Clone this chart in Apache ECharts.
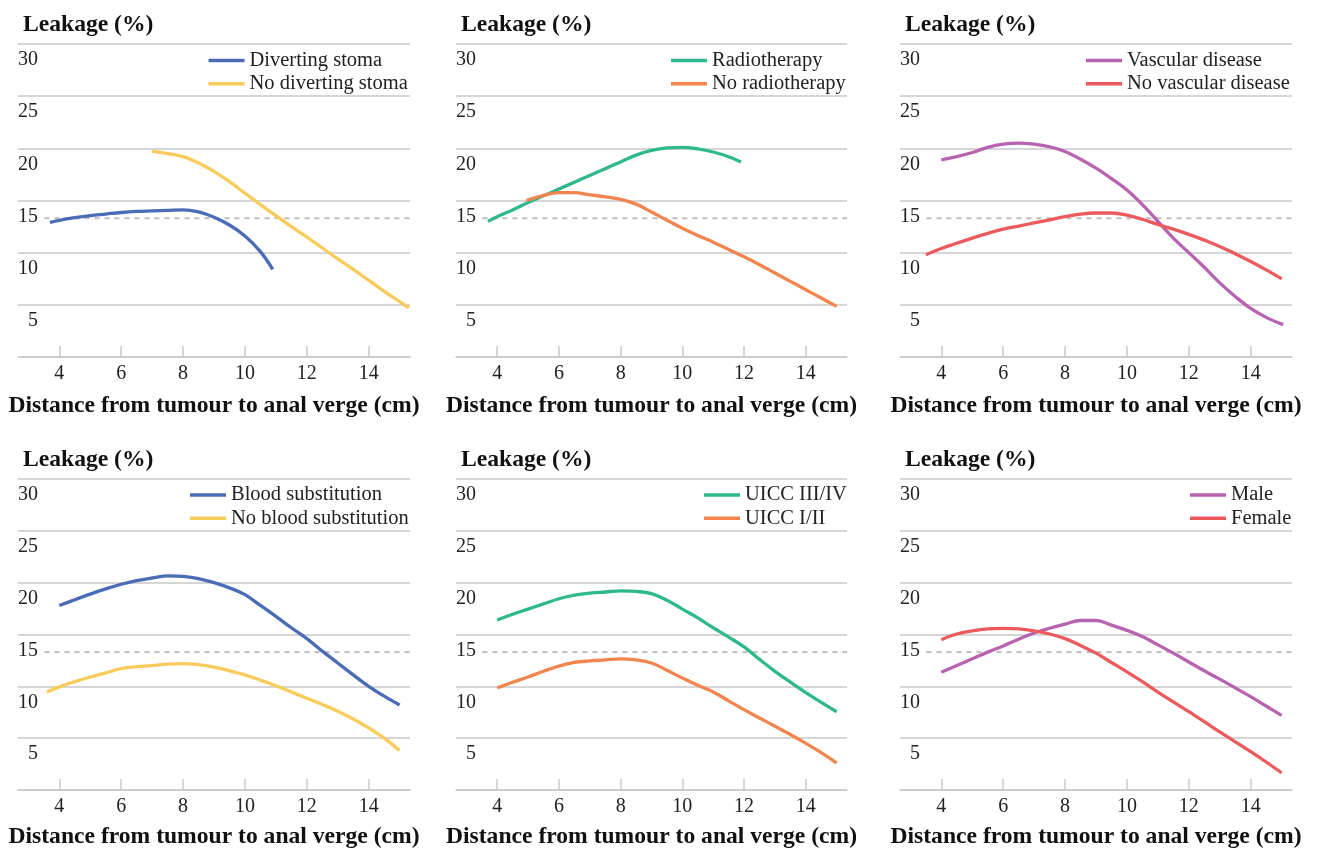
<!DOCTYPE html>
<html>
<head>
<meta charset="utf-8">
<script src="https://cdn.jsdelivr.net/npm/echarts@6/dist/echarts.min.js"></script>
<style>
html,body{margin:0;padding:0;background:#fff;}
#chart{width:1320px;height:850px;}
</style>
</head>
<body>
<div id="chart"></div>
<script>
// ---------- data ----------
const xTicks = [4, 6, 8, 10, 12, 14];
const yTicks = [0, 5, 10, 15, 20, 25, 30];
const overallLeakage = 13.3;
const overallRange = [3.52, 15.335];

const divertingStoma = [[3.7,12.9],[4,13.1],[4.5,13.35],[5,13.55],[5.5,13.7],[6,13.85],[6.5,13.95],[7,14.0],[7.5,14.05],[8,14.1],[8.5,13.9],[9,13.4],[9.5,12.65],[10,11.6],[10.5,10.1],[10.9,8.4]];
const noDivertingStoma = [[7.0,19.7],[7.5,19.5],[8,19.2],[8.5,18.6],[9,17.8],[9.5,16.8],[10,15.7],[10.5,14.6],[11,13.55],[11.5,12.5],[12,11.5],[12.5,10.45],[13,9.4],[13.5,8.4],[14,7.35],[14.5,6.3],[15,5.3],[15.3,4.7]];

const radiotherapy = [[3.7,13.0],[4,13.45],[4.5,14.1],[5,14.8],[5.5,15.45],[6,16.1],[6.5,16.75],[7,17.4],[7.5,18.05],[8,18.7],[8.5,19.35],[9,19.8],[9.5,20.05],[10,20.1],[10.5,19.95],[11,19.65],[11.5,19.2],[11.9,18.7]];
const noRadiotherapy = [[4.95,15.0],[5.5,15.5],[6,15.75],[6.5,15.75],[7,15.55],[7.5,15.35],[8,15.1],[8.5,14.65],[9,13.9],[9.5,13.1],[10,12.35],[10.5,11.65],[11,11.0],[11.5,10.3],[12,9.6],[12.5,8.85],[13,8.05],[13.5,7.25],[14,6.45],[14.5,5.65],[15,4.85]];

const vascularDisease = [[4,18.9],[4.5,19.2],[5,19.6],[5.5,20.1],[6,20.4],[6.5,20.5],[7,20.4],[7.5,20.15],[8,19.7],[8.5,18.95],[9,18.1],[9.5,17.1],[10,16.0],[10.5,14.6],[11,13.0],[11.5,11.4],[12,10.0],[12.5,8.6],[13,7.1],[13.5,5.8],[14,4.65],[14.5,3.8],[15.05,3.1]];
const noVascularDisease = [[3.5,9.8],[4,10.4],[4.5,10.9],[5,11.4],[5.5,11.85],[6,12.25],[6.5,12.55],[7,12.85],[7.5,13.15],[8,13.45],[8.5,13.7],[9,13.8],[9.5,13.8],[10,13.6],[10.5,13.2],[11,12.7],[11.5,12.25],[12,11.75],[12.5,11.2],[13,10.6],[13.5,9.9],[14,9.15],[14.5,8.35],[15,7.5]];

const bloodSubstitution = [[4,17.8],[4.5,18.35],[5,18.9],[5.5,19.4],[6,19.85],[6.5,20.2],[7,20.45],[7.5,20.65],[8,20.6],[8.5,20.4],[9,20.0],[9.5,19.5],[10,18.85],[10.5,17.8],[11,16.75],[11.5,15.65],[12,14.6],[12.5,13.4],[13,12.25],[13.5,11.1],[14,10.0],[14.5,9.05],[15,8.2]];
const noBloodSubstitution = [[3.6,9.45],[4,9.95],[4.5,10.45],[5,10.9],[5.5,11.3],[6,11.7],[6.5,11.9],[7,12.0],[7.5,12.15],[8,12.2],[8.5,12.1],[9,11.85],[9.5,11.5],[10,11.1],[10.5,10.6],[11,10.05],[11.5,9.45],[12,8.85],[12.5,8.25],[13,7.6],[13.5,6.85],[14,6.0],[14.5,5.0],[15,3.8]];

const uiccIIIIV = [[4,16.4],[4.5,16.95],[5,17.45],[5.5,17.95],[6,18.45],[6.5,18.8],[7,19.0],[7.5,19.1],[8,19.2],[8.5,19.15],[9,18.95],[9.5,18.3],[10,17.45],[10.5,16.6],[11,15.65],[11.5,14.75],[12,13.8],[12.5,12.6],[13,11.45],[13.5,10.4],[14,9.4],[14.5,8.45],[15,7.55]];
const uiccIII = [[4,9.85],[4.5,10.4],[5,10.9],[5.5,11.45],[6,11.95],[6.5,12.3],[7,12.45],[7.5,12.55],[8,12.65],[8.5,12.55],[9,12.25],[9.5,11.55],[10,10.8],[10.5,10.1],[11,9.45],[11.5,8.6],[12,7.75],[12.5,6.95],[13,6.15],[13.5,5.35],[14,4.5],[14.5,3.6],[15,2.6]];

const male = [[4,11.35],[4.5,12.0],[5,12.65],[5.5,13.3],[6,13.9],[6.5,14.55],[7,15.15],[7.5,15.6],[8,16.0],[8.5,16.35],[9,16.35],[9.5,15.9],[10,15.4],[10.5,14.8],[11,14.0],[11.5,13.2],[12,12.35],[12.5,11.5],[13,10.7],[13.5,9.85],[14,9.0],[14.5,8.1],[15,7.2]];
const female = [[4,14.5],[4.5,15.05],[5,15.35],[5.5,15.55],[6,15.6],[6.5,15.55],[7,15.35],[7.5,15.05],[8,14.6],[8.5,13.95],[9,13.2],[9.5,12.3],[10,11.4],[10.5,10.45],[11,9.45],[11.5,8.5],[12,7.55],[12.5,6.6],[13,5.6],[13.5,4.65],[14,3.7],[14.5,2.7],[15,1.65]];

const yTitle = 'Leakage (%)';
const xTitle = 'Distance from tumour to anal verge (cm)';

// ---------- layout / style ----------
const FONT = "'Liberation Serif','Times New Roman',serif";
const C = {blue:'#4A6CB6', yellow:'#F9CB5A', green:'#2DB88E', orange:'#F2844E', purple:'#B763AF', red:'#EC5A5E'};

const panels = [
  {left:18,  top:44,  width:392, legendLeft:208.5, lines:[['Diverting stoma',divertingStoma,C.blue],['No diverting stoma',noDivertingStoma,C.yellow]]},
  {left:456, top:44,  width:391, legendLeft:671,   lines:[['Radiotherapy',radiotherapy,C.green],['No radiotherapy',noRadiotherapy,C.orange]]},
  {left:900, top:44,  width:392, legendLeft:1086,  lines:[['Vascular disease',vascularDisease,C.purple],['No vascular disease',noVascularDisease,C.red]]},
  {left:18,  top:479, width:392, legendLeft:190,   lines:[['Blood substitution',bloodSubstitution,C.blue],['No blood substitution',noBloodSubstitution,C.yellow]]},
  {left:456, top:479, width:391, legendLeft:704,   lines:[['UICC III/IV',uiccIIIIV,C.green],['UICC I/II',uiccIII,C.orange]]},
  {left:900, top:479, width:392, legendLeft:1190,  lines:[['Male',male,C.purple],['Female',female,C.red]]}
];
const GRID_H = 313;
const GRIDC = '#C9C9C9';

const option = {
  animation:false,
  backgroundColor:'#fff',
  textStyle:{fontFamily:FONT},
  grid:[], xAxis:[], yAxis:[], legend:[], series:[]
};

panels.forEach((p, i) => {
  const topRow = p.top < 100;
  option.grid.push({left:p.left, top:p.top, width:p.width, height:GRID_H, containLabel:false});
  option.xAxis.push({
    type:'value', gridIndex:i, min:2.665, max:15.335,
    name:xTitle, nameLocation:'middle', nameGap: topRow ? 37 : 35,
    nameTextStyle:{fontFamily:FONT, fontSize:23.6, fontWeight:'bold', color:'#111'},
    axisLine:{show:true, lineStyle:{color:GRIDC, width:1.5}},
    axisTick:{show:true, inside:true, length:11, customValues:xTicks, lineStyle:{color:GRIDC, width:1.5}},
    axisLabel:{customValues:xTicks, margin:7, fontFamily:FONT, fontSize:20, color:'#222'},
    splitLine:{show:false}
  });
  option.yAxis.push({
    type:'value', gridIndex:i, min:yTicks[0], max:yTicks[yTicks.length-1], interval:5,
    name:yTitle, nameLocation:'end', nameGap:19,
    nameTextStyle:{fontFamily:FONT, fontSize:23.6, fontWeight:'bold', color:'#111', align:'left', verticalAlign:'middle', padding:[0,0,0,5]},
    axisLine:{show:false}, axisTick:{show:false},
    axisLabel:{inside:true, margin:20, align:'right', verticalAlign:'top', padding:[6,0,0,0], fontFamily:FONT, fontSize:20, color:'#222',
      formatter:(v)=> v===0 ? '' : String(v)},
    splitLine:{show:true, lineStyle:{color:GRIDC, width:1.5}}
  });
  option.legend.push({
    orient:'vertical', left:p.legendLeft, top:p.top + (topRow ? 6 : 5.5), padding:0,
    itemGap:2.3, itemWidth:36, itemHeight:3.6, icon:'rect',
    textStyle:{fontFamily:FONT, fontSize:20.5, color:'#222', lineHeight:20},
    data:p.lines.map(l=>l[0]), selectedMode:false
  });
  option.series.push({
    type:'line', xAxisIndex:i, yAxisIndex:i, name:'overall'+i,
    data:[[overallRange[0], overallLeakage],[overallRange[1], overallLeakage]],
    symbol:'none', silent:true, z:1,
    lineStyle:{color:'#BDBDBD', width:2, type:[5,5]}
  });
  p.lines.forEach(l => {
    option.series.push({
      type:'line', xAxisIndex:i, yAxisIndex:i, name:l[0], data:l[1],
      smooth:0.4, symbol:'none', z:3,
      itemStyle:{color:l[2]},
      lineStyle:{color:l[2], width:3.3},
      emphasis:{disabled:true}
    });
  });
});

const chart = echarts.init(document.getElementById('chart'), null, {renderer:'canvas'});
chart.setOption(option);
</script>
</body>
</html>
